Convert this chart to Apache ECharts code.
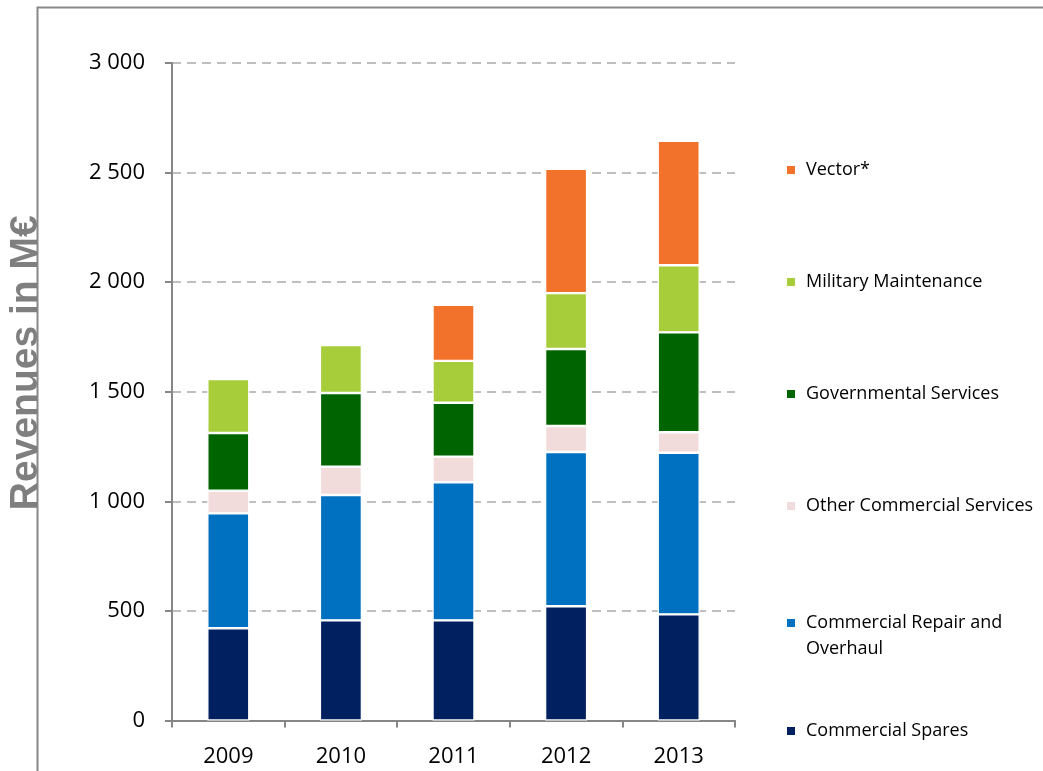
<!DOCTYPE html>
<html>
<head>
<meta charset="utf-8">
<script src="https://cdn.jsdelivr.net/npm/echarts@6/dist/echarts.min.js"></script>
<style>
html,body{margin:0;padding:0;background:#fff;}
#chart{width:1043px;height:771px;}
</style>
</head>
<body>
<div id="chart"></div>
<script>
// ---- data (M€) ----
var categories = ['2009', '2010', '2011', '2012', '2013'];
var commercialSpares = [421, 457, 457, 521, 484];
var commercialRepair = [524, 572, 630, 704, 738];
var otherCommercial = [103, 129, 117, 119, 93];
var governmental = [264, 336, 246, 351, 456];
var military = [246, 219, 191, 255, 306];
var vector = [null, null, 256, 567, 568];
var yTicks = [0, 500, 1000, 1500, 2000, 2500, 3000];

var seriesNames = ['Commercial Spares', 'Commercial Repair and Overhaul', 'Other Commercial Services',
  'Governmental Services', 'Military Maintenance', 'Vector*'];
var seriesData = [commercialSpares, commercialRepair, otherCommercial, governmental, military, vector];
var colors = ['#00205f', '#0071c1', '#f2dcdb', '#006400', '#a8cd3b', '#f3722b'];

var chart = echarts.init(document.getElementById('chart'), null, {renderer: 'canvas'});

var series = seriesNames.map(function (n, i) {
  return {
    name: n,
    type: 'bar',
    stack: 'total',
    barWidth: 42,
    data: seriesData[i],
    itemStyle: {color: colors[i], borderColor: '#ffffff', borderWidth: 1.2},
    emphasis: {disabled: true}
  };
});

var legendFont = {fontFamily: 'Open Sans', fontSize: 18, color: '#000000', padding: [0, 0, 0, 5]};
var legendCenters = {
  'Vector*': 166, 'Military Maintenance': 278, 'Governmental Services': 390,
  'Other Commercial Services': 502, 'Commercial Repair and Overhaul': 615, 'Commercial Spares': 727
};
var legends = seriesNames.map(function (n) {
  var isTwoLine = n === 'Commercial Repair and Overhaul';
  var lg = {
    show: true,
    data: [n],
    left: 785,
    top: legendCenters[n] - 5,
    orient: 'vertical',
    itemWidth: 10,
    itemHeight: isTwoLine ? 36 : 10,
    icon: isTwoLine ? 'path://M0,0L10,0L10,10L0,10Z M0,36' : 'rect',
    selectedMode: false,
    padding: 0,
    textStyle: Object.assign({}, legendFont, isTwoLine ? {lineHeight: 26} : {})
  };
  if (isTwoLine) {
    lg.formatter = function () { return 'Commercial Repair and\nOverhaul'; };
  }
  return lg;
});

var option = {
  backgroundColor: '#ffffff',
  animation: false,
  legend: legends,
  grid: {left: 172, right: 308, top: 63, bottom: 50.5, containLabel: false, outerBoundsMode: 'none'},
  xAxis: {
    type: 'category',
    data: categories,
    boundaryGap: true,
    axisLine: {lineStyle: {color: '#868686', width: 2}},
    axisTick: {show: true, alignWithLabel: false, length: 7, lineStyle: {color: '#868686', width: 2}},
    axisLabel: {fontFamily: 'Open Sans', fontSize: 22, color: '#000000', margin: 25}
  },
  yAxis: {
    type: 'value',
    min: 0,
    max: 3000,
    interval: 500,
    name: 'Revenues in M€',
    nameLocation: 'middle',
    nameRotate: 90,
    nameGap: 126,
    nameTextStyle: {fontFamily: 'Liberation Sans', fontWeight: 'bold', fontSize: 39, color: '#7f7f7f', padding: [0, 0, 0, 58]},
    axisLine: {show: true, lineStyle: {color: '#868686', width: 2}},
    axisTick: {show: true, length: 7, lineStyle: {color: '#868686', width: 2}},
    axisLabel: {
      fontFamily: 'Open Sans', fontSize: 22, color: '#000000', margin: 27,
      formatter: function (v) { return yTicks.indexOf(v) >= 0 ? String(v).replace(/\B(?=(\d{3})+(?!\d))/g, ' ') : ''; }
    },
    splitLine: {show: true, lineStyle: {color: '#bfbfbf', width: 2, type: [9, 6]}}
  },
  graphic: [{
    type: 'rect',
    silent: true,
    z: -10,
    shape: {x: 37.5, y: 7.5, width: 1100, height: 900},
    style: {fill: null, stroke: '#888888', lineWidth: 2}
  }],
  series: series
};
chart.setOption(option);
</script>
</body>
</html>
